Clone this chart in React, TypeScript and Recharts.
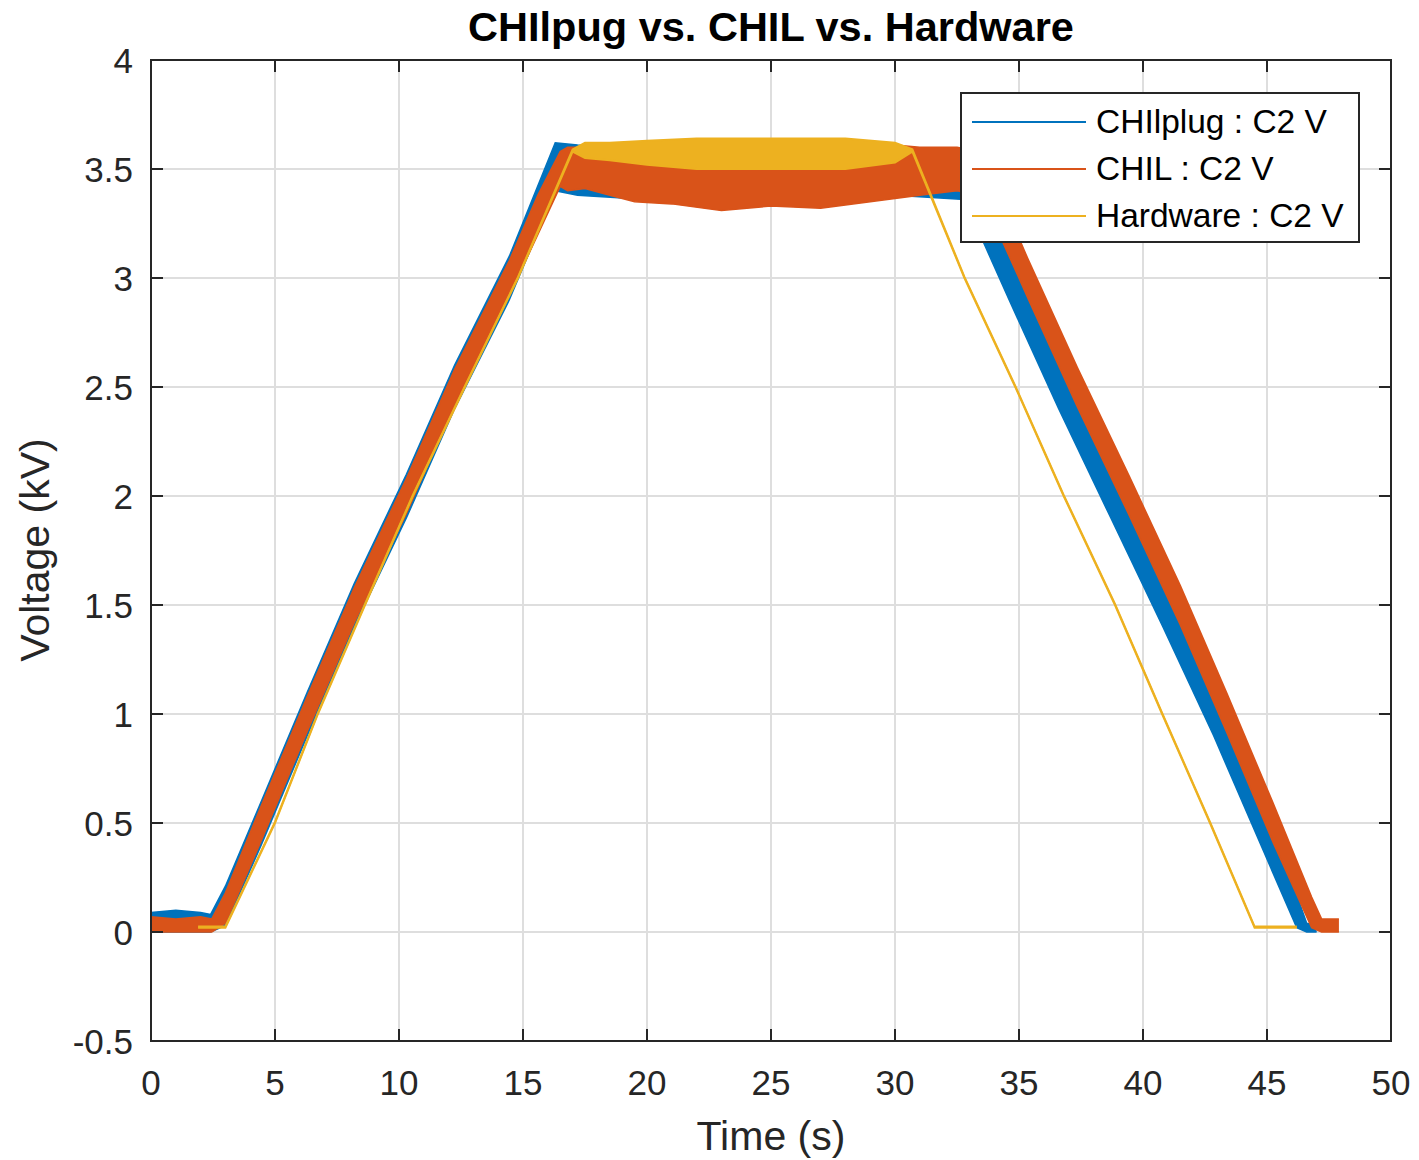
import { ComposedChart, Area, XAxis, YAxis, CartesianGrid, ReferenceArea } from "recharts";

// time (s) / lower and upper edge (kV) of each trace's noise band
const plugTime = [0, 1, 2, 2.4, 3.0, 4.45, 6.3, 8.2, 10.3, 12.24, 14.45, 16.3, 17.2, 20, 25, 30, 32.8, 34.6, 36.6, 38.7, 40.8, 42.85, 44.75, 46.2, 46.6, 47.0];
const plugLow = [0, 0, 0, 0, 0.03, 0.4, 0.9, 1.4, 1.9, 2.4, 2.9, 3.4, 3.38, 3.36, 3.36, 3.38, 3.36, 2.9, 2.4, 1.9, 1.4, 0.9, 0.4, 0.02, 0, 0];
const plugHigh = [0.09, 0.1, 0.09, 0.08, 0.21, 0.6, 1.1, 1.6, 2.1, 2.6, 3.1, 3.62, 3.61, 3.6, 3.6, 3.6, 3.56, 3.1, 2.6, 2.1, 1.6, 1.1, 0.6, 0.17, 0.04, 0.03];

const chilTime = [0, 1, 2, 2.45, 3.0, 4.45, 6.3, 8.2, 10.3, 12.24, 14.45, 15.6, 16.5, 16.8, 17.5, 18.5, 19.5, 21, 23, 25, 27, 29, 31, 32.5, 33.5, 35.35, 37.35, 39.45, 41.5, 43.4, 45.25, 46.8, 47.2, 47.9];
const chilLow = [0, 0, 0, 0, 0.04, 0.42, 0.92, 1.42, 1.92, 2.42, 2.92, 3.2, 3.42, 3.4, 3.41, 3.38, 3.35, 3.34, 3.31, 3.33, 3.32, 3.35, 3.38, 3.4, 3.38, 2.91, 2.41, 1.91, 1.41, 0.91, 0.41, 0.02, 0, 0];
const chilHigh = [0.07, 0.06, 0.07, 0.06, 0.18, 0.58, 1.08, 1.58, 2.08, 2.58, 3.08, 3.38, 3.58, 3.6, 3.6, 3.6, 3.62, 3.62, 3.63, 3.63, 3.63, 3.62, 3.6, 3.6, 3.58, 3.09, 2.59, 2.09, 1.59, 1.09, 0.59, 0.16, 0.06, 0.06];

const hwTime = [1.9, 3.0, 5.0, 6.73, 8.63, 10.56, 12.66, 14.8, 17.0, 17.5, 18.5, 20, 22, 25, 28, 30, 30.7, 32.8, 34.85, 36.8, 38.87, 40.77, 42.7, 44.5, 46.2];
const hwLow = [0.02, 0.02, 0.5, 1.0, 1.5, 2.0, 2.5, 3.0, 3.58, 3.55, 3.54, 3.52, 3.5, 3.5, 3.5, 3.53, 3.58, 3.0, 2.5, 2.0, 1.5, 1.0, 0.5, 0.02, 0.02];
const hwHigh = [0.025, 0.025, 0.505, 1.005, 1.505, 2.005, 2.505, 3.005, 3.59, 3.62, 3.62, 3.63, 3.64, 3.64, 3.64, 3.62, 3.59, 3.005, 2.505, 2.005, 1.505, 1.005, 0.505, 0.025, 0.025];

const xTicks = [0, 5, 10, 15, 20, 25, 30, 35, 40, 45, 50];
const yTicks = [-0.5, 0, 0.5, 1, 1.5, 2, 2.5, 3, 3.5, 4];

const seriesNames = ["CHIlplug : C2 V", "CHIL : C2 V", "Hardware : C2 V"];
const seriesColors = ["#0072BD", "#D95319", "#EDB120"];

const band = (t: number[], lo: number[], hi: number[]) => t.map((x, i) => ({ t: x, band: [lo[i], hi[i]] }));
const plugData = band(plugTime, plugLow, plugHigh);
const chilData = band(chilTime, chilLow, chilHigh);
const hwData = band(hwTime, hwLow, hwHigh);

const W = 1419;
const H = 1160;
const LEFT = 151;
const RIGHT = 1391;
const TOP = 60;
const BOTTOM = 1041;
const INK = "#262626";
const FONT = '"Liberation Sans", Arial, Helvetica, sans-serif';

function YTick({ y, payload }: any) {
  return (
    <g>
      <line x1={LEFT} x2={LEFT + 12} y1={y} y2={y} stroke={INK} strokeWidth={2} />
      <line x1={RIGHT - 12} x2={RIGHT} y1={y} y2={y} stroke={INK} strokeWidth={2} />
      <text x={LEFT - 18} y={y} textAnchor="end" dominantBaseline="central" fontSize={35} fill={INK} fontFamily={FONT}>
        {payload.value}
      </text>
    </g>
  );
}

function XTick({ x, payload }: any) {
  return (
    <g>
      <line x1={x} x2={x} y1={BOTTOM} y2={BOTTOM - 12} stroke={INK} strokeWidth={2} />
      <line x1={x} x2={x} y1={TOP} y2={TOP + 12} stroke={INK} strokeWidth={2} />
      <text x={x} y={1082} textAnchor="middle" dominantBaseline="central" fontSize={35} fill={INK} fontFamily={FONT}>
        {payload.value}
      </text>
    </g>
  );
}

export default function App() {
  return (
    <div style={{ position: "absolute", left: 0, top: 0, width: W, height: H, background: "#fff", fontFamily: FONT }}>
      <div style={{ position: "absolute", left: LEFT, width: RIGHT - LEFT, top: 3, textAlign: "center", fontSize: 41.5, fontWeight: "bold", color: "#000", lineHeight: "48px" }}>
        CHIlpug vs. CHIL vs. Hardware
      </div>
      <ComposedChart width={W} height={H} margin={{ top: TOP, right: W - RIGHT, left: 0, bottom: 0 }}>
        <CartesianGrid stroke="#dedede" strokeWidth={2} />
        <XAxis
          type="number"
          dataKey="t"
          domain={[0, 50]}
          ticks={xTicks}
          interval={0}
          height={H - BOTTOM}
          tick={XTick}
          tickLine={false}
          axisLine={{ stroke: INK, strokeWidth: 2 }}
          allowDataOverflow
        />
        <YAxis
          type="number"
          domain={[-0.5, 4]}
          ticks={yTicks}
          interval={0}
          width={LEFT}
          tick={YTick}
          tickLine={false}
          axisLine={{ stroke: INK, strokeWidth: 2 }}
          allowDataOverflow
        />
        <Area data={plugData} dataKey="band" type="linear" stroke={seriesColors[0]} strokeWidth={1.5} fill={seriesColors[0]} fillOpacity={1} isAnimationActive={false} />
        <Area data={chilData} dataKey="band" type="linear" stroke={seriesColors[1]} strokeWidth={1.5} fill={seriesColors[1]} fillOpacity={1} isAnimationActive={false} />
        <Area data={hwData} dataKey="band" type="linear" stroke={seriesColors[2]} strokeWidth={2} fill={seriesColors[2]} fillOpacity={1} isAnimationActive={false} />
        <ReferenceArea x1={0} x2={50} y1={-0.5} y2={4} fill="none" stroke={INK} strokeWidth={2} />
      </ComposedChart>
      <div
        style={{
          position: "absolute",
          left: 35,
          top: 550,
          transform: "translate(-50%, -50%) rotate(-90deg)",
          fontSize: 41,
          color: INK,
          whiteSpace: "nowrap",
        }}
      >
        Voltage (kV)
      </div>
      <div style={{ position: "absolute", left: LEFT, width: RIGHT - LEFT, top: 1112, textAlign: "center", fontSize: 41, color: INK, lineHeight: "48px" }}>
        Time (s)
      </div>
      <div
        style={{
          position: "absolute",
          left: 960,
          top: 92,
          width: 400,
          height: 151,
          boxSizing: "border-box",
          border: `2px solid ${INK}`,
          background: "#fff",
        }}
      >
        {seriesNames.map((name, i) => (
          <div key={name} style={{ position: "absolute", left: 10, top: 11 + i * 47, height: 34, display: "flex", alignItems: "center" }}>
            <span style={{ display: "inline-block", width: 114, height: 2, background: seriesColors[i] }} />
            <span style={{ marginLeft: 10, fontSize: 33.5, color: "#000", whiteSpace: "nowrap" }}>{name}</span>
          </div>
        ))}
      </div>
    </div>
  );
}
